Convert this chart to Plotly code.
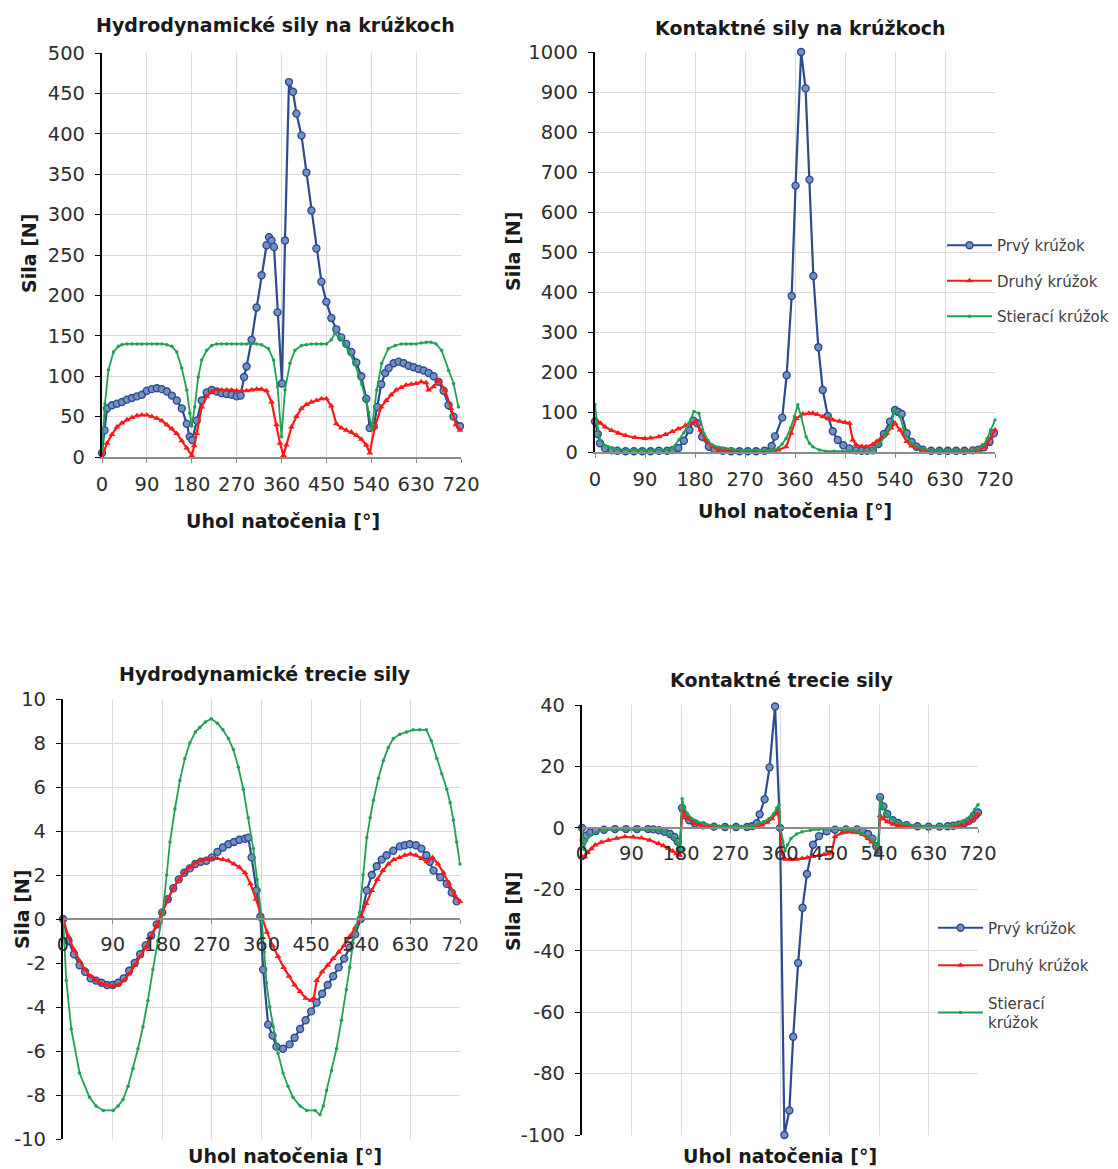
import plotly.graph_objects as go

W, H = 1118, 1169

# ---------------- DATA ----------------
SERIES_NAMES = ["Prvý krúžok", "Druhý krúžok", "Stierací krúžok"]
X_TICKS = [0, 90, 180, 270, 360, 450, 540, 630, 720]

# Chart 1: Hydrodynamické sily na krúžkoch
hs_prvy_x = [0, 5, 10, 20, 30, 40, 50, 60, 70, 80, 90, 100, 110, 120, 130, 140, 150, 160, 170, 176, 181, 190,
             200, 210, 220, 230, 240, 250, 260, 270, 278, 285, 290, 300, 310, 320, 330, 335, 340, 345, 352, 361,
             367, 375, 383, 390, 400, 410, 420, 430, 440, 450, 460, 470, 480, 490, 500, 510, 520, 530, 537, 545,
             552, 560, 568, 575, 585, 595, 605, 615, 625, 635, 645, 655, 665, 675, 685, 695, 705, 718]
hs_prvy_y = [5, 33, 60, 64, 66, 68, 71, 73, 75, 77, 82, 84, 85, 84, 81, 76, 70, 60, 41, 25, 21, 45,
             70, 80, 83, 81, 79, 78, 77, 75, 76, 99, 112, 145, 185, 225, 262, 272, 268, 260, 179, 91,
             268, 464, 452, 425, 398, 352, 305, 258, 217, 192, 172, 158, 148, 140, 130, 117, 100, 72, 36, 38,
             62, 90, 104, 110, 116, 118, 116, 113, 111, 109, 107, 104, 100, 93, 82, 64, 50, 38]
hs_druhy_x = [0, 10, 20, 30, 40, 50, 60, 70, 80, 90, 100, 110, 120, 130, 140, 150, 160, 170, 180, 185, 190,
              200, 210, 220, 230, 240, 250, 260, 270, 280, 290, 300, 310, 320, 330, 340, 350, 357, 364, 370,
              380, 390, 400, 410, 420, 430, 440, 450, 460, 470, 480, 490, 500, 510, 520, 530, 537, 547, 560,
              570, 580, 590, 600, 610, 620, 630, 640, 650, 655, 665, 675, 688, 700, 710, 718]
hs_druhy_y = [0, 17, 28, 37, 42, 46, 49, 51, 52, 52, 50, 48, 45, 40, 35, 29, 20, 11, 2, 14, 29,
              62, 75, 81, 83, 83, 83, 83, 82, 82, 82, 83, 84, 84, 82, 68, 40, 17, 2, 15,
              37, 50, 60, 65, 68, 70, 72, 72, 63, 41, 36, 33, 31, 27, 22, 15, 5, 37, 62,
              70, 77, 83, 86, 89, 90, 91, 93, 92, 83, 87, 95, 83, 60, 40, 33]
hs_stier_x = [0, 6, 13, 23, 33, 40, 50, 60, 70, 80, 90, 100, 110, 120, 130, 140, 150, 160, 170, 176, 180, 186,
              193, 200, 210, 220, 230, 240, 250, 260, 270, 280, 290, 300, 310, 320, 334, 344, 352, 360, 367,
              377, 387, 400, 410, 420, 430, 440, 450, 460, 467, 475, 485, 494, 505, 515, 521, 530, 535, 541,
              551, 561, 574, 588, 600, 610, 620, 630, 640, 650, 660, 670, 681, 695, 705, 715]
hs_stier_y = [9, 66, 108, 130, 137, 139, 140, 140, 140, 140, 140, 140, 140, 140, 139, 137, 130, 110, 83, 54, 38, 62,
              99, 120, 132, 138, 140, 140, 140, 140, 140, 140, 140, 140, 140, 139, 134, 120, 87, 25, 83,
              116, 132, 138, 139, 140, 140, 140, 140, 145, 153, 148, 142, 132, 118, 102, 90, 70, 55, 35,
              83, 116, 134, 138, 140, 140, 140, 140, 141, 142, 142, 140, 132, 107, 91, 62]

# Chart 2: Kontaktné sily na krúžkoch
ks_prvy_x = [0, 5, 9, 18, 30, 40, 55, 70, 85, 100, 115, 130, 140, 150, 160, 170, 177, 184, 193, 205, 215, 230,
             245, 260, 275, 290, 305, 318, 324, 337, 345, 354, 361, 371, 379, 386, 393, 402, 410, 419, 428,
             437, 447, 458, 470, 480, 490, 500, 510, 520, 531, 540, 546, 552, 561, 570, 579, 590, 605, 620,
             635, 650, 665, 680, 690, 700, 710, 718]
ks_prvy_y = [76, 45, 22, 9, 4, 3, 2, 2, 2, 2, 3, 3, 5, 10, 28, 55, 78, 72, 38, 13, 6, 3,
             2, 2, 2, 2, 3, 15, 39, 86, 192, 390, 666, 1000, 909, 681, 440, 262, 155, 90, 52,
             30, 17, 9, 4, 3, 3, 4, 20, 45, 76, 105, 100, 95, 47, 25, 13, 6, 3, 3,
             3, 3, 3, 4, 6, 12, 25, 47]
ks_druhy_x = [0, 10, 18, 30, 42, 55, 72, 90, 100, 115, 127, 139, 150, 163, 172, 181, 190, 199, 211, 223, 235,
              250, 265, 280, 295, 310, 320, 330, 344, 353, 362, 374, 385, 392, 400, 410, 420, 428, 440, 450,
              458, 464, 470, 480, 488, 500, 507, 516, 525, 533, 540, 549, 561, 570, 579, 590, 605, 620, 635,
              650, 665, 680, 690, 700, 706, 712, 720]
ks_druhy_y = [82, 72, 63, 54, 47, 41, 36, 34, 35, 38, 44, 51, 58, 67, 72, 76, 55, 30, 13, 5, 3,
              2, 2, 2, 2, 2, 3, 5, 13, 47, 84, 95, 97, 97, 94, 88, 83, 80, 77, 74,
              72, 30, 18, 14, 13, 19, 26, 36, 47, 60, 72, 55, 26, 15, 9, 5, 3, 3, 3,
              3, 3, 3, 5, 12, 22, 35, 55]
ks_stier_x = [0, 4, 9, 16, 24, 35, 45, 60, 75, 90, 105, 120, 130, 140, 151, 160, 169, 178, 187, 196, 204,
              211, 223, 235, 250, 265, 280, 295, 310, 320, 330, 337, 344, 352, 359, 365, 371, 380, 386, 392,
              404, 415, 430, 445, 460, 475, 495, 505, 513, 522, 531, 540, 549, 555, 561, 570, 579, 590, 605,
              620, 635, 650, 665, 680, 690, 700, 706, 712, 720]
ks_stier_y = [118, 70, 30, 18, 13, 8, 6, 5, 5, 5, 5, 5, 6, 10, 30, 48, 72, 101, 97, 47, 28,
              18, 12, 9, 6, 4, 4, 4, 4, 5, 10, 20, 34, 60, 88, 118, 88, 38, 22, 13,
              5, 2, 2, 2, 2, 2, 3, 10, 22, 40, 63, 105, 88, 60, 38, 22, 13, 8, 4,
              4, 4, 4, 4, 4, 8, 18, 34, 55, 80]

# Chart 3: Hydrodynamické trecie sily
ht_prvy_x = [0, 10, 20, 30, 40, 50, 60, 70, 80, 90, 100, 110, 120, 130, 140, 150, 160, 170, 180, 190, 200,
             210, 220, 230, 240, 250, 260, 270, 280, 290, 300, 310, 320, 330, 336, 342, 351, 358, 363, 372,
             380, 387, 399, 411, 420, 430, 440, 450, 460, 470, 480, 490, 500, 510, 520, 530, 540, 551, 560,
             569, 578, 587, 599, 611, 620, 629, 640, 650, 659, 665, 672, 684, 696, 705, 714]
ht_prvy_y = [0, -1.0, -1.6, -2.1, -2.4, -2.7, -2.8, -2.9, -3.0, -3.0, -2.9, -2.7, -2.35, -2.0, -1.6, -1.2,
             -0.75, -0.25, 0.3, 0.9, 1.4, 1.8, 2.1, 2.3, 2.5, 2.6, 2.65, 2.8, 3.05, 3.25, 3.4, 3.5, 3.6,
             3.65, 3.7, 2.8, 1.3, 0.1, -2.3, -4.8, -5.3, -5.8, -5.9, -5.7, -5.4, -5.0, -4.6, -4.2, -3.8,
             -3.4, -3.0, -2.6, -2.2, -1.8, -1.3, -0.7, 0.0, 1.3, 2.0, 2.4, 2.7, 2.9, 3.1, 3.3, 3.35, 3.4,
             3.35, 3.2, 2.9, 2.6, 2.2, 1.9, 1.6, 1.2, 0.8]
ht_druhy_x = [0, 10, 20, 30, 40, 50, 60, 70, 80, 90, 100, 110, 120, 130, 140, 150, 160, 170, 180, 190, 200,
              210, 220, 230, 240, 250, 260, 270, 280, 290, 300, 310, 320, 330, 340, 350, 360, 370, 380, 390,
              400, 410, 420, 430, 440, 450, 455, 460, 470, 480, 490, 500, 510, 520, 530, 540, 550, 560, 570,
              580, 590, 600, 610, 620, 630, 640, 650, 660, 670, 680, 690, 700, 710, 720]
ht_druhy_y = [0, -0.8, -1.4, -1.9, -2.3, -2.6, -2.8, -2.95, -3.0, -3.05, -3.0, -2.8, -2.5, -2.1, -1.7, -1.3,
              -0.8, -0.3, 0.3, 0.9, 1.4, 1.8, 2.1, 2.35, 2.55, 2.65, 2.7, 2.75, 2.75, 2.7, 2.65, 2.5, 2.35,
              2.1, 1.6, 0.9, 0.1, -0.6, -1.2, -1.7, -2.2, -2.6, -3.0, -3.3, -3.6, -3.7, -3.6, -2.8, -2.4,
              -2.1, -1.8, -1.5, -1.2, -0.8, -0.4, 0.1, 0.7, 1.3, 1.8, 2.2, 2.5, 2.7, 2.8, 2.9, 2.95, 2.9,
              2.75, 2.6, 2.8, 2.5, 2.1, 1.6, 1.1, 0.8]
ht_stier_x = [0, 6, 15, 30, 48, 60, 73, 91, 100, 109, 118, 127, 136, 145, 154, 163, 172, 181, 188, 194, 203,
              212, 221, 230, 240, 248, 258, 269, 280, 290, 300, 309, 318, 327, 336, 345, 352, 360, 365, 369,
              375, 381, 390, 399, 408, 417, 430, 442, 457, 466, 472, 478, 487, 496, 505, 514, 520, 526, 532,
              538, 544, 551, 557, 563, 572, 581, 590, 599, 611, 623, 635, 647, 659, 668, 678, 687, 696, 702,
              708, 714, 720]
ht_stier_y = [0, -2.8, -5.0, -7.0, -8.1, -8.5, -8.7, -8.7, -8.5, -8.2, -7.6, -6.8, -5.9, -4.9, -3.7, -2.3,
              -1.0, 0.3, 2.0, 3.5, 5.0, 6.3, 7.3, 8.0, 8.5, 8.7, 8.95, 9.1, 8.9, 8.6, 8.2, 7.7, 6.9, 5.9,
              4.6, 3.2, 1.8, 0.1, -1.5, -2.9, -4.0, -4.9, -6.1, -7.0, -7.6, -8.1, -8.5, -8.7, -8.7, -8.9,
              -8.5, -7.8, -6.9, -5.9, -4.6, -3.2, -2.2, -1.1, -0.3, 0.3, 2.0, 3.7, 4.6, 5.4, 6.4, 7.2, 7.8,
              8.2, 8.4, 8.5, 8.6, 8.6, 8.6, 8.1, 7.3, 6.6, 5.9, 5.3, 4.5, 3.5, 2.5]

# Chart 4: Kontaktné trecie sily
kt_prvy_x = [0, 3, 8, 15, 25, 40, 60, 80, 100, 120, 130, 140, 150, 160, 168, 174, 178, 182, 188, 195, 205,
             220, 240, 260, 280, 300, 310, 318, 323, 332, 341, 351, 360, 368, 377, 384, 393, 401, 409, 420,
             431, 445, 460, 480, 500, 510, 520, 528, 535, 539, 542, 548, 555, 565, 575, 590, 610, 630, 650,
             665, 675, 685, 695, 703, 710, 716, 720]
kt_prvy_y = [0, -4, -2.5, -1.5, -1.0, -0.6, -0.4, -0.4, -0.4, -0.4, -0.5, -0.8, -1.3, -2.0, -3.0, -4.5, -7,
             6.5, 4, 2.5, 1.5, 0.8, 0.4, 0.3, 0.3, 0.3, 0.6, 1.5, 4.4, 9.3, 19.7, 39.5, 0, -100, -92, -68,
             -44, -26, -15, -5.5, -2.7, -1.1, -0.6, -0.5, -0.5, -1.0, -2.0, -3.5, -6, -8, 10, 7, 4.5, 2.5,
             1.6, 0.9, 0.5, 0.4, 0.4, 0.5, 0.7, 1.0, 1.5, 2.2, 3.0, 4.2, 5.0]
kt_druhy_x = [0, 5, 10, 17, 24, 35, 48, 63, 78, 93, 108, 123, 139, 148, 157, 165, 172, 178, 182, 188, 193,
              205, 215, 230, 250, 270, 290, 310, 327, 337, 345, 351, 356, 360, 364, 370, 380, 390, 400, 410,
              420, 430, 440, 448, 454, 460, 472, 485, 495, 502, 510, 520, 527, 533, 538, 542, 548, 555, 565,
              575, 590, 610, 630, 650, 670, 680, 690, 700, 708, 714, 720]
kt_druhy_y = [-9.3, -9.4, -8.0, -6.8, -5.6, -4.7, -4.0, -3.4, -2.9, -3.0, -3.3, -4.0, -5.1, -5.8, -6.7, -7.5,
              -8.4, -8.9, 5.7, 4.0, 3.0, 1.4, 0.9, 0.5, 0.3, 0.2, 0.2, 0.2, 0.9, 1.8, 3.0, 4.5, 5.5, 0,
              -8.5, -10.2, -10.3, -10.2, -10.0, -9.7, -9.3, -9.0, -8.7, -8.4, -8.0, -2.8, -1.7, -1.3, -1.4,
              -1.6, -2.2, -3.5, -4.6, -5.5, -8.0, 4.0, 3.0, 2.0, 1.2, 0.8, 0.4, 0.2, 0.2, 0.2, 0.2, 0.5, 0.9,
              1.5, 2.3, 3.3, 4.5]
kt_stier_x = [0, 3, 8, 15, 25, 40, 60, 80, 100, 120, 130, 140, 150, 160, 168, 174, 178, 182, 186, 192, 200,
              210, 225, 240, 260, 280, 300, 310, 320, 330, 340, 348, 354, 358, 361, 365, 369, 374, 380, 390,
              400, 415, 430, 450, 470, 480, 490, 500, 510, 520, 528, 534, 539, 542, 546, 552, 560, 570, 585,
              600, 620, 640, 660, 670, 680, 690, 700, 708, 714, 720]
kt_stier_y = [0, -7, -4, -2.5, -1.5, -0.8, -0.5, -0.5, -0.5, -0.5, -0.6, -0.8, -1.3, -2.2, -3.3, -5, -7,
              9.5, 6.5, 4.5, 3.0, 2.0, 1.2, 0.8, 0.5, 0.5, 0.5, 0.8, 1.2, 2.0, 3.0, 4.5, 6.5, 7.5, 0,
              -4.5, -7.5, -5.5, -3.5, -2.0, -1.3, -0.8, -0.5, -0.5, -0.5, -0.5, -0.8, -1.2, -1.8, -2.8,
              -4.0, -5.5, -7.5, 9.5, 7.0, 5.0, 3.5, 2.2, 1.3, 0.8, 0.5, 0.5, 0.5, 0.8, 1.2, 2.0, 3.0, 4.5,
              6.0, 7.5]

# ---------------- STYLE ----------------
BLUE_LINE = "#2B4B8C"
BLUE_FILL = "#7390C6"
RED = "#FF1A1A"
GREEN = "#1FA155"
GRID = "#DADADA"
TICK_FONT = dict(family="DejaVu Sans", size=19.5, color="#2E2E2E")
TITLE_FONT = dict(family="DejaVu Sans", size=19, color="#1A1A1A")
LEGEND_FONT = dict(family="DejaVu Sans", size=15, color="#404040")


def fx(px):
    return px / W


def fy(py):
    return 1 - py / H


# plot areas in pixels: (left, right, top, bottom)
AREAS = {
    1: (102, 461, 53, 457),
    2: (595, 995, 52, 452),
    3: (63, 460, 699, 1139),
    4: (582, 978, 705, 1135),
}
YRANGES = {1: (0, 500, 50), 2: (0, 1000, 100), 3: (-10, 10, 2), 4: (-100, 40, 20)}

fig = go.Figure()


def style(i):
    if i == 0:
        return dict(mode="lines+markers", line=dict(color=BLUE_LINE, width=2.2),
                    marker=dict(symbol="circle", size=7, color=BLUE_FILL,
                                line=dict(color=BLUE_LINE, width=1.4)))
    if i == 1:
        return dict(mode="lines+markers", line=dict(color=RED, width=2.2),
                    marker=dict(symbol="triangle-up", size=6, color=RED))
    return dict(mode="lines+markers", line=dict(color=GREEN, width=1.8),
                marker=dict(symbol="circle", size=3.5, color=GREEN))


charts = {
    1: [(hs_prvy_x, hs_prvy_y), (hs_druhy_x, hs_druhy_y), (hs_stier_x, hs_stier_y)],
    2: [(ks_prvy_x, ks_prvy_y), (ks_druhy_x, ks_druhy_y), (ks_stier_x, ks_stier_y)],
    3: [(ht_prvy_x, ht_prvy_y), (ht_druhy_x, ht_druhy_y), (ht_stier_x, ht_stier_y)],
    4: [(kt_prvy_x, kt_prvy_y), (kt_druhy_x, kt_druhy_y), (kt_stier_x, kt_stier_y)],
}

for c, series in charts.items():
    suffix = "" if c == 1 else str(c)
    for i, (xs, ys) in enumerate(series):
        name = SERIES_NAMES[i]
        legend = None
        show = False
        if c == 2:
            show, legend = True, "legend"
        if c == 4:
            show, legend = True, "legend2"
            if i == 2:
                name = "Stierací<br>krúžok"
        kw = style(i)
        tr = go.Scatter(x=xs, y=ys, name=name, xaxis="x" + suffix, yaxis="y" + suffix,
                        showlegend=show, cliponaxis=False, legendgroup=f"g{c}{i}", **kw)
        if legend:
            tr.legend = legend
        fig.add_trace(tr)

layout = dict(width=W, height=H, margin=dict(l=0, r=0, t=0, b=0, autoexpand=False),
              paper_bgcolor="white", plot_bgcolor="white", showlegend=True)

for c, (l, r, t, b) in AREAS.items():
    suffix = "" if c == 1 else str(c)
    y0, y1, dy = YRANGES[c]
    ydom = [fy(b), fy(t)]
    yvals = list(range(y0, y1 + dy, dy))
    ytext = [str(v) for v in yvals]  # plain hyphen-minus like the original
    xa = dict(domain=[fx(l), fx(r)], range=[0, 720], tickvals=X_TICKS, showgrid=True,
              gridcolor=GRID, gridwidth=1, showline=True, linecolor="#8C8C8C", linewidth=1.5,
              ticks="outside", ticklen=4, tickcolor="#8C8C8C", tickfont=TICK_FONT,
              zeroline=False, fixedrange=True, automargin=False)
    if y0 < 0:
        zero_pos = ydom[0] + (0 - y0) / (y1 - y0) * (ydom[1] - ydom[0])
        xa.update(anchor="free", position=zero_pos, ticklabelstandoff=4)
    else:
        xa.update(anchor="y" + suffix, ticklabelstandoff=5)
    ya = dict(domain=ydom, range=[y0, y1], tickvals=yvals, ticktext=ytext, showgrid=True,
              gridcolor=GRID, gridwidth=1, showline=True, linecolor="black", linewidth=2.2,
              ticks="outside", ticklen=5, tickcolor="black", tickfont=TICK_FONT, zeroline=False,
              anchor="x" + suffix, ticklabelstandoff=6, fixedrange=True, automargin=False)
    layout["xaxis" + suffix] = xa
    layout["yaxis" + suffix] = ya

layout["legend"] = dict(x=fx(942), y=fy(281), xanchor="left", yanchor="middle", font=LEGEND_FONT,
                        bgcolor="rgba(0,0,0,0)", itemwidth=45, tracegroupgap=13,
                        traceorder="grouped")
layout["legend2"] = dict(x=fx(933), y=fy(975), xanchor="left", yanchor="middle", font=LEGEND_FONT,
                         bgcolor="rgba(0,0,0,0)", itemwidth=45, tracegroupgap=15,
                         traceorder="grouped")

annotations = []


def text(t, x, y, angle=0, font=None):
    annotations.append(dict(text="<b>" + t + "</b>", x=fx(x), y=fy(y), xref="paper", yref="paper",
                            showarrow=False, textangle=angle, font=font or TITLE_FONT,
                            xanchor="center", yanchor="middle"))


text("Hydrodynamické sily na krúžkoch", 275, 25)
text("Kontaktné sily na krúžkoch", 800, 28)
text("Hydrodynamické trecie sily", 265, 674)
text("Kontaktné trecie sily", 782, 680)
text("Uhol natočenia [°]", 283, 521)
text("Uhol natočenia [°]", 795, 511)
text("Uhol natočenia [°]", 285, 1156)
text("Uhol natočenia [°]", 780, 1156)
text("Sila [N]", 29, 254, angle=-90)
text("Sila [N]", 513, 252, angle=-90)
text("Sila [N]", 22, 910, angle=-90)
text("Sila [N]", 513, 912, angle=-90)
layout["annotations"] = annotations

fig.update_layout(**layout)
# remove the browser's default 8px page margin so the figure fills the window exactly
fig.write_html("out.html", config={"displayModeBar": False},
               post_script="document.body.style.margin='0';document.body.style.overflow='hidden';")
